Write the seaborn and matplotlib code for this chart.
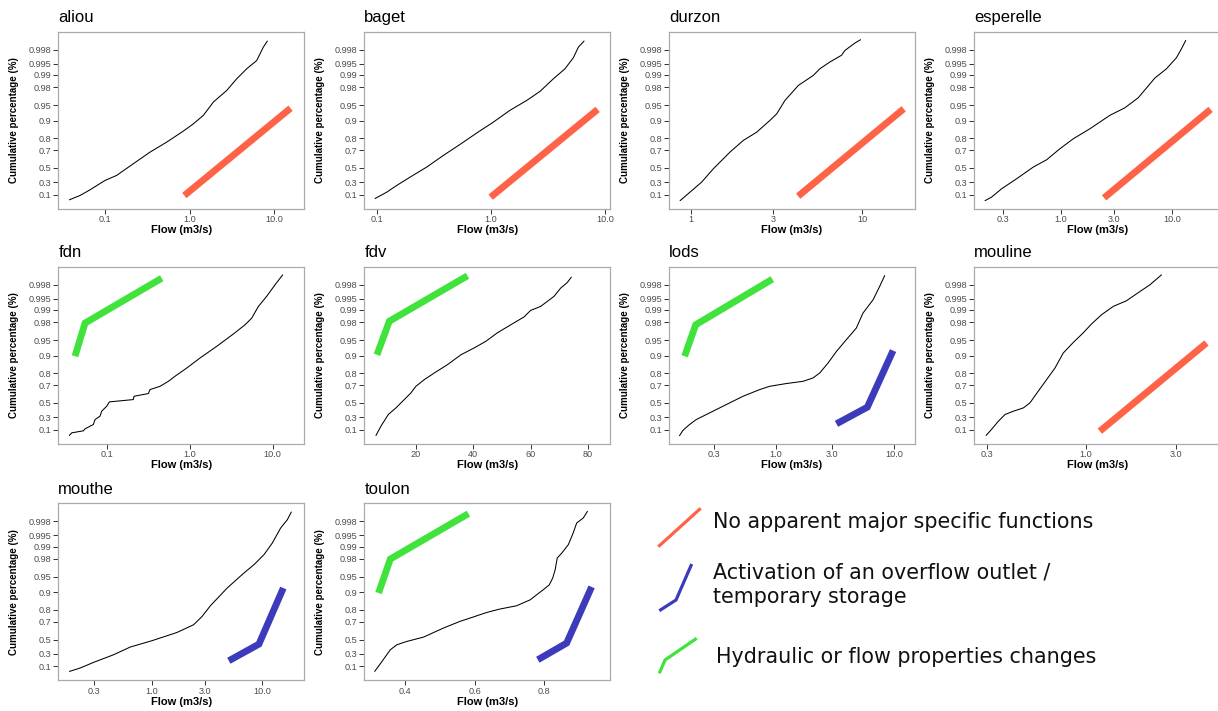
import math
from statistics import NormalDist

import numpy as np
import pandas as pd
import matplotlib
matplotlib.use("Agg")
import matplotlib.pyplot as plt
from matplotlib.ticker import NullLocator
import seaborn as sns

# ------------------------------------------------------------------ data
SITES = ["aliou", "baget", "durzon", "esperelle", "fdn",
         "fdv", "lods", "mouline", "mouthe", "toulon"]
LINEAR_X_SITES = ["fdv", "toulon"]

# flow-duration curves (flow in m3/s, cumulative probability)
aliou_flow = [0.0379, 0.0506, 0.0664, 0.100, 0.137, 0.216, 0.341, 0.537, 0.846,
              1.11, 1.46, 1.92, 2.75, 3.62, 4.75, 6.24, 7.48, 8.34]
aliou_p = [0.019, 0.089, 0.180, 0.325, 0.398, 0.553, 0.682, 0.771, 0.847,
           0.885, 0.920, 0.957, 0.976, 0.9875, 0.9931, 0.9959, 0.99834, 0.99892]

baget_flow = [0.0954, 0.121, 0.148, 0.194, 0.271, 0.380, 0.532, 0.746, 1.045,
              1.46, 2.05, 2.69, 3.52, 4.45, 5.27, 5.84, 6.55]
baget_p = [0.040, 0.143, 0.249, 0.374, 0.511, 0.648, 0.752, 0.835, 0.893,
           0.936, 0.960, 0.975, 0.9875, 0.9931, 0.99658, 0.99834, 0.99892]

durzon_flow = [0.859, 0.982, 1.149, 1.345, 1.504, 1.683, 2.014, 2.41, 2.88, 3.16,
               3.53, 4.23, 5.17, 5.65, 6.47, 7.57, 7.92, 9.06, 9.78]
durzon_p = [0.005, 0.143, 0.300, 0.489, 0.592, 0.682, 0.784, 0.840, 0.900, 0.925,
            0.960, 0.9818, 0.9897, 0.9931, 0.9955, 0.9971, 0.9979, 0.99875, 0.99902]

esperelle_flow = [0.209, 0.239, 0.294, 0.401, 0.565, 0.745, 0.98, 1.29, 1.82,
                  2.75, 3.74, 4.93, 5.85, 6.95, 8.84, 10.86, 12.05, 13.16]
esperelle_p = [0.005, 0.062, 0.196, 0.350, 0.511, 0.600, 0.714, 0.796, 0.860,
               0.920, 0.943, 0.965, 0.979, 0.988, 0.9931, 0.99658, 0.99813, 0.99897]

fdn_flow = [0.0347, 0.0371, 0.0513, 0.0537, 0.0677, 0.0710, 0.0815, 0.0853, 0.0982,
            0.1057, 0.206, 0.210, 0.313, 0.328, 0.434, 0.547, 0.659, 0.912, 1.32,
            2.10, 3.35, 4.63, 5.57, 6.71, 8.46, 10.67, 13.2]
fdn_p = [0.008, 0.051, 0.084, 0.116, 0.185, 0.263, 0.314, 0.387, 0.457,
         0.514, 0.543, 0.583, 0.614, 0.657, 0.690, 0.736, 0.778, 0.835, 0.889,
         0.933, 0.963, 0.977, 0.984, 0.9919, 0.9957, 0.998, 0.99901]

fdv_flow = [6.07, 7.81, 10.37, 13.04, 15.94, 18.26, 20.0, 22.9, 26.4, 31.0, 35.7,
            40.3, 44.4, 48.4, 53.1, 57.7, 60.0, 63.5, 68.2, 70.5, 72.8, 74.2]
fdv_p = [0.008, 0.159, 0.339, 0.434, 0.543, 0.621, 0.690, 0.750, 0.802, 0.855, 0.903,
         0.928, 0.947, 0.965, 0.977, 0.985, 0.9897, 0.9919, 0.9957, 0.9975, 0.99829, 0.99883]

lods_flow = [0.153, 0.162, 0.169, 0.186, 0.212, 0.275, 0.380, 0.526, 0.728, 0.884,
             1.22, 1.69, 2.05, 2.34, 2.75, 3.24, 3.93, 4.77, 5.43, 6.60, 7.51, 8.28]
lods_p = [0.005, 0.079, 0.116, 0.185, 0.263, 0.363, 0.479, 0.583, 0.657, 0.690,
          0.716, 0.736, 0.764, 0.802, 0.864, 0.916, 0.951, 0.9726, 0.988, 0.9946,
          0.99776, 0.99896]

mouline_flow = [0.298, 0.320, 0.346, 0.375, 0.415, 0.469, 0.508, 0.562, 0.622, 0.689,
                0.762, 0.861, 0.972, 1.076, 1.215, 1.40, 1.647, 1.94, 2.19, 2.52]
mouline_p = [0.008, 0.116, 0.237, 0.339, 0.387, 0.434, 0.501, 0.640, 0.750, 0.835,
             0.910, 0.944, 0.965, 0.978, 0.9868, 0.9919, 0.9943, 0.99686, 0.998, 0.99901]

mouthe_flow = [0.179, 0.223, 0.295, 0.449, 0.636, 1.0, 1.69, 2.39, 2.85, 3.39,
               4.81, 6.81, 8.40, 10.36, 12.33, 14.68, 16.88, 18.35]
mouthe_p = [0.019, 0.073, 0.164, 0.284, 0.398, 0.485, 0.588, 0.672, 0.749, 0.828,
            0.916, 0.958, 0.9725, 0.984, 0.9919, 0.99687, 0.99822, 0.99897]

toulon_flow = [0.312, 0.333, 0.357, 0.376, 0.405, 0.453, 0.472, 0.510, 0.558, 0.587,
               0.635, 0.673, 0.721, 0.760, 0.798, 0.815, 0.825, 0.832, 0.838, 0.851,
               0.870, 0.884, 0.894, 0.913, 0.925]
toulon_p = [0.019, 0.180, 0.359, 0.431, 0.476, 0.532, 0.569, 0.637, 0.705, 0.735,
            0.781, 0.806, 0.828, 0.863, 0.910, 0.927, 0.947, 0.9645, 0.9808, 0.9854,
            0.9911, 0.9957, 0.99777, 0.99842, 0.99902]

# behaviour categories and their indicator lines
KIND_LABELS = ["No apparent major specific functions",
               "Activation of an overflow outlet /\ntemporary storage",
               "Hydraulic or flow properties changes"]
KIND_COLORS = ["#FF6347", "#3B3BBC", "#40E23C"]

aliou_none_flow, aliou_none_p = [0.869, 15.7], [0.089, 0.942]
baget_none_flow, baget_none_p = [0.99, 8.62], [0.062, 0.9387]
durzon_none_flow, durzon_none_p = [4.22, 17.5], [0.078, 0.9404]
esperelle_none_flow, esperelle_none_p = [2.44, 22.0], [0.051, 0.9387]
mouline_none_flow, mouline_none_p = [1.19, 4.36], [0.078, 0.9426]

fdn_hyd_flow, fdn_hyd_p = [0.0406, 0.0537, 0.454], [0.897, 0.979, 0.99874]
fdv_hyd_flow, fdv_hyd_p = [6.42, 10.72, 37.99], [0.903, 0.981, 0.99894]
lods_hyd_flow, lods_hyd_p = [0.169, 0.2096, 0.931], [0.897, 0.977, 0.99865]
toulon_hyd_flow, toulon_hyd_p = [0.323, 0.357, 0.582], [0.896, 0.9797, 0.99884]

lods_ovf_flow, lods_ovf_p = [3.24, 5.91, 9.75], [0.196, 0.444, 0.919]
mouthe_ovf_flow, mouthe_ovf_p = [4.98, 9.33, 15.52], [0.191, 0.439, 0.916]
toulon_ovf_flow, toulon_ovf_p = [0.782, 0.865, 0.937], [0.207, 0.453, 0.920]

# axis ticks
Y_TICKS = [0.1, 0.3, 0.5, 0.7, 0.8, 0.9, 0.95, 0.98, 0.99, 0.995, 0.998]
Y_TICK_LABELS = ["0.1", "0.3", "0.5", "0.7", "0.8", "0.9", "0.95", "0.98",
                 "0.99", "0.995", "0.998"]
X_TICKS = {
    "aliou": ([0.1, 1.0, 10.0], ["0.1", "1.0", "10.0"]),
    "baget": ([0.1, 1.0, 10.0], ["0.1", "1.0", "10.0"]),
    "durzon": ([1, 3, 10], ["1", "3", "10"]),
    "esperelle": ([0.3, 1.0, 3.0, 10.0], ["0.3", "1.0", "3.0", "10.0"]),
    "fdn": ([0.1, 1.0, 10.0], ["0.1", "1.0", "10.0"]),
    "fdv": ([20, 40, 60, 80], ["20", "40", "60", "80"]),
    "lods": ([0.3, 1.0, 3.0, 10.0], ["0.3", "1.0", "3.0", "10.0"]),
    "mouline": ([0.3, 1.0, 3.0], ["0.3", "1.0", "3.0"]),
    "mouthe": ([0.3, 1.0, 3.0, 10.0], ["0.3", "1.0", "3.0", "10.0"]),
    "toulon": ([0.4, 0.6, 0.8], ["0.4", "0.6", "0.8"]),
}
X_LIMITS = {
    "aliou": (0.028, 22.65), "baget": (0.0768, 11.07), "durzon": (0.740, 20.3),
    "esperelle": (0.1675, 26.7), "fdn": (0.0255, 23.9), "fdv": (2.0, 87.7),
    "lods": (0.1247, 14.85), "mouline": (0.258, 5.14), "mouthe": (0.1418, 23.9),
    "toulon": (0.282, 0.990),
}
Y_LIMITS = (-0.1224, 0.99946)

# assemble per-site tables
CURVES = {s: pd.DataFrame({"flow": globals()[f"{s}_flow"], "p": globals()[f"{s}_p"]})
          for s in SITES}
MARKS = {
    "aliou": [(0, aliou_none_flow, aliou_none_p)],
    "baget": [(0, baget_none_flow, baget_none_p)],
    "durzon": [(0, durzon_none_flow, durzon_none_p)],
    "esperelle": [(0, esperelle_none_flow, esperelle_none_p)],
    "fdn": [(2, fdn_hyd_flow, fdn_hyd_p)],
    "fdv": [(2, fdv_hyd_flow, fdv_hyd_p)],
    "lods": [(2, lods_hyd_flow, lods_hyd_p), (1, lods_ovf_flow, lods_ovf_p)],
    "mouline": [(0, mouline_none_flow, mouline_none_p)],
    "mouthe": [(1, mouthe_ovf_flow, mouthe_ovf_p)],
    "toulon": [(2, toulon_hyd_flow, toulon_hyd_p), (1, toulon_ovf_flow, toulon_ovf_p)],
}

# ------------------------------------------------------------------ half-normal probability scale
_ND = NormalDist()


def prob_to_z(p):
    a = np.asarray(p, dtype=float)
    flat = a.reshape(-1)
    out = np.empty(flat.shape, dtype=float)
    for i, v in enumerate(flat):
        if np.isfinite(v):
            v = min(max(float(v), -0.99999999), 0.99999999)
            out[i] = math.copysign(_ND.inv_cdf((1.0 + abs(v)) / 2.0), v)
        else:
            out[i] = np.nan
    return out.reshape(a.shape)


_erf = np.vectorize(math.erf, otypes=[float])


def z_to_prob(z):
    a = np.asarray(z, dtype=float)
    return _erf(a / math.sqrt(2.0))


# ------------------------------------------------------------------ style
sns.set_theme(style="white")
plt.rcParams["font.family"] = ["Liberation Sans", "DejaVu Sans"]

FIG_W, FIG_H = 1218, 711
COL_LEFT = [58.3, 364.3, 669.0, 974.3]
ROW_TOP = [31.7, 266.7, 503.3]
BOX_W, BOX_H = 245.7, 176.8

fig = plt.figure(figsize=(FIG_W / 100, FIG_H / 100), dpi=100, facecolor="white")

for i, site in enumerate(SITES):
    r, c = divmod(i, 4)
    ax = fig.add_axes([COL_LEFT[c] / FIG_W, 1 - (ROW_TOP[r] + BOX_H) / FIG_H,
                       BOX_W / FIG_W, BOX_H / FIG_H])
    ax.set_facecolor("white")

    for kind, fl, pp in MARKS[site]:
        sns.lineplot(x=fl, y=pp, ax=ax, color=KIND_COLORS[kind], lw=4.9,
                     sort=False, estimator=None,
                     solid_capstyle="butt", solid_joinstyle="miter")

    sns.lineplot(data=CURVES[site], x="flow", y="p", ax=ax, color="black",
                 lw=0.75, sort=False, estimator=None)

    if site not in LINEAR_X_SITES:
        ax.set_xscale("log")
    ax.set_yscale("function", functions=(prob_to_z, z_to_prob))
    ax.set_xlim(*X_LIMITS[site])
    ax.set_ylim(*Y_LIMITS)

    xt, xl = X_TICKS[site]
    ax.set_xticks(xt)
    ax.set_xticklabels(xl)
    ax.set_yticks(Y_TICKS)
    ax.set_yticklabels(Y_TICK_LABELS)
    ax.xaxis.set_minor_locator(NullLocator())
    ax.yaxis.set_minor_locator(NullLocator())

    ax.tick_params(axis="both", which="major", bottom=True, left=True,
                   length=3.3, width=0.7, color="#333333", labelcolor="#4D4D4D",
                   labelsize=6.6, pad=1.5, direction="out")

    for sp in ax.spines.values():
        sp.set_visible(True)
        sp.set_color("#ABABAB")
        sp.set_linewidth(0.9)

    ax.set_xlabel("Flow (m3/s)", fontsize=8, fontweight="bold", color="black")
    ax.set_ylabel("Cumulative percentage (%)", fontsize=7, fontweight="bold",
                  color="black")
    ax.xaxis.set_label_coords(0.5, -21.5 / BOX_H)
    ax.xaxis.label.set_va("center")
    ax.yaxis.set_label_coords(-44.5 / BOX_W, 0.5)
    ax.yaxis.label.set_va("center")
    ax.set_title(site, loc="left", fontsize=12, pad=7, color="black")

# ------------------------------------------------------------------ legend
LEG_FONT = 14.9
GLYPHS = [  # glyph outlines in figure pixels (legend decoration only)
    ([658.3, 700.7], [546.7, 508.3]),
    ([659.3, 676.0, 691.7], [610.7, 600.0, 564.0]),
    ([659.3, 665.0, 696.7], [673.3, 660.0, 638.3]),
]
# baseline of the last line of each label, in figure pixels
TEXT_ANCHORS = [(713.3, 528.3), (713.3, 603.3), (716.0, 662.7)]

lax = fig.add_axes([0, 0, 1, 1], facecolor="none")
lax.set_xlim(0, FIG_W)
lax.set_ylim(FIG_H, 0)
lax.axis("off")
for k in range(3):
    gx, gy = GLYPHS[k]
    lax.plot(gx, gy, color=KIND_COLORS[k], lw=2.3,
             solid_capstyle="butt", solid_joinstyle="miter")
    tx, ty = TEXT_ANCHORS[k]
    lax.text(tx, ty, KIND_LABELS[k], fontsize=LEG_FONT, family="DejaVu Sans",
             color="#111111", ha="left", va="baseline", linespacing=1.27)

fig.savefig("out.png", dpi=100, facecolor="white")
